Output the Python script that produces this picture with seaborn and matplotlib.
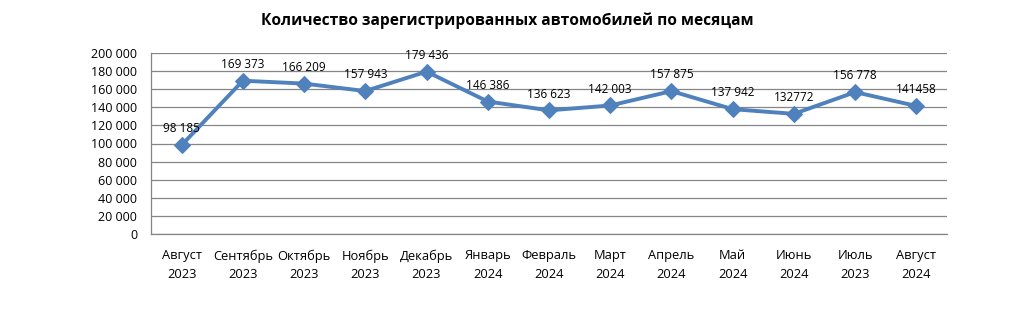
import matplotlib
matplotlib.use("Agg")
import matplotlib.pyplot as plt
import seaborn as sns
import pandas as pd

months = ["Август\n2023", "Сентябрь\n2023", "Октябрь\n2023", "Ноябрь\n2023",
          "Декабрь\n2023", "Январь\n2024", "Февраль\n2024", "Март\n2024",
          "Апрель\n2024", "Май\n2024", "Июнь\n2024", "Июль\n2023", "Август\n2024"]
registrations = [98185, 169373, 166209, 157943, 179436, 146386, 136623,
                 142003, 157875, 137942, 132772, 156778, 141458]
value_labels = ["98 185", "169 373", "166 209", "157 943", "179 436", "146 386",
                "136 623", "142 003", "157 875", "137 942", "132772", "156 778",
                "141458"]
y_ticks = [0, 20000, 40000, 60000, 80000, 100000, 120000, 140000,
           160000, 180000, 200000]
title = "Количество зарегистрированных автомобилей по месяцам"

sns.set_theme(style="white")
plt.rcParams["font.family"] = ["Open Sans", "DejaVu Sans"]
plt.rcParams["text.color"] = "black"
plt.rcParams["xtick.color"] = "black"
plt.rcParams["ytick.color"] = "black"

df = pd.DataFrame({"idx": range(len(months)), "value": registrations})

fig = plt.figure(figsize=(10.19, 3.32), dpi=100)
ax = fig.add_axes([151 / 1019, 1 - 234 / 332, 796 / 1019, 181 / 332])

sns.lineplot(data=df, x="idx", y="value", ax=ax, color="#4F81BD",
             linewidth=2.8, marker="D", markersize=8,
             markeredgecolor="#4F81BD", zorder=3)

for i, (v, lab) in enumerate(zip(registrations, value_labels)):
    ax.annotate(lab, (i, v), xytext=(0, 7), textcoords="offset points",
                ha="center", va="bottom", fontsize=8.5, color="black")

ax.set_xlim(-0.5, len(months) - 0.5)
ax.set_ylim(0, 200000)
ax.set_yticks(y_ticks)
ax.set_yticklabels([f"{t:,}".replace(",", " ") for t in y_ticks], fontsize=9)
ax.set_xticks(range(len(months)))
ax.set_xticklabels(months, fontsize=9.3, linespacing=1.55)
ax.set_xlabel("")
ax.set_ylabel("")

ax.grid(axis="y", color="#868686", linewidth=0.9)
ax.set_axisbelow(True)
for s in ["top", "right"]:
    ax.spines[s].set_visible(False)
for s in ["left", "bottom"]:
    ax.spines[s].set_color("#868686")
    ax.spines[s].set_linewidth(0.9)
ax.tick_params(axis="y", length=3, color="#868686", pad=7)
ax.tick_params(axis="x", length=0, pad=11)

fig.text(507 / 1019, 1 - 21 / 332, title, ha="center", va="center",
         fontsize=11.2, fontweight="bold", color="black")

fig.savefig("out.png", dpi=100, facecolor="white")
